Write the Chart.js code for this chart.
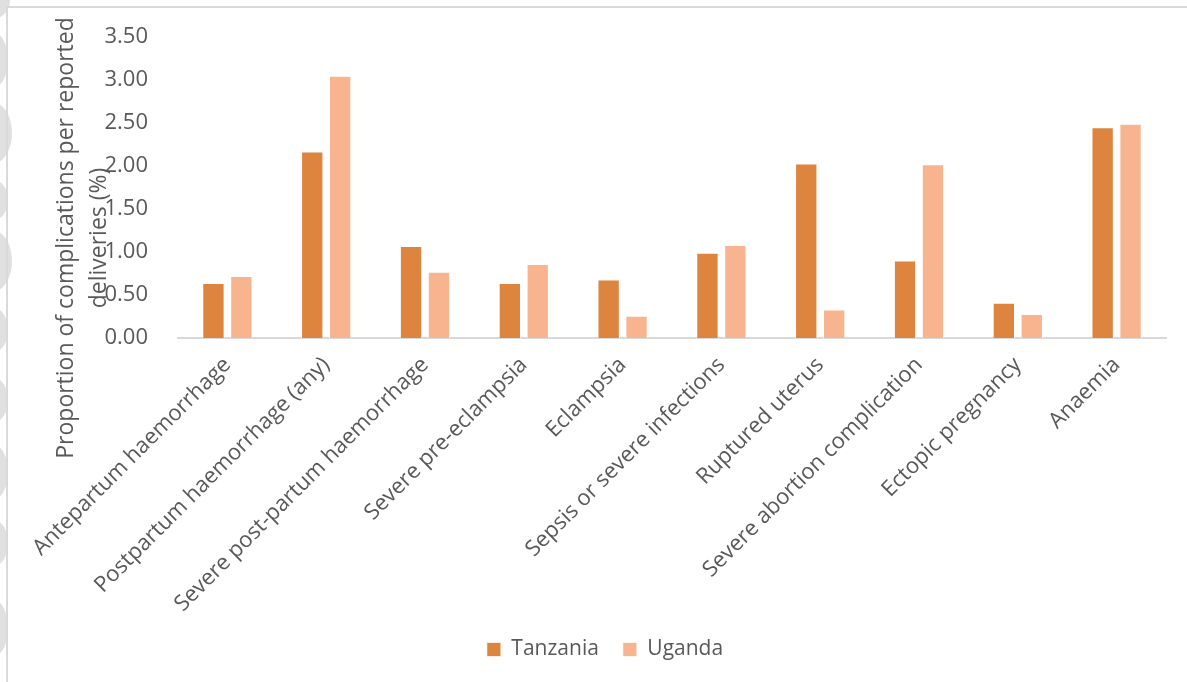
<!DOCTYPE html>
<html>
<head>
<meta charset="utf-8">
<script src="https://cdn.jsdelivr.net/npm/chart.js@4/dist/chart.umd.min.js"></script>
<style>
  html, body { margin: 0; padding: 0; background: #fff; }
  #wrap { position: relative; width: 1187px; height: 682px; overflow: hidden; }
  #frame { position: absolute; left: 6px; top: 6px; right: -2px; bottom: -2px;
           border-top: 2px solid #d9d9d9; border-left: 2px solid #d9d9d9; }
  .blob { position: absolute; background: #e0e0e0; border-radius: 50%; }
  canvas { position: absolute; left: 0; top: 0; }
</style>
</head>
<body>
<div id="wrap">
  <div class="blob" style="left:-20px; top:-18px; width:30px; height:36px;"></div>
  <div class="blob" style="left:-22px; top:32px; width:30px; height:56px;"></div>
  <div class="blob" style="left:-28px; top:102px; width:40px; height:62px;"></div>
  <div class="blob" style="left:-20px; top:180px; width:28px; height:40px;"></div>
  <div class="blob" style="left:-28px; top:230px; width:40px; height:62px;"></div>
  <div class="blob" style="left:-20px; top:308px; width:28px; height:44px;"></div>
  <div class="blob" style="left:-20px; top:378px; width:28px; height:44px;"></div>
  <div class="blob" style="left:-20px; top:445px; width:28px; height:54px;"></div>
  <div class="blob" style="left:-20px; top:520px; width:28px; height:46px;"></div>
  <div class="blob" style="left:-20px; top:600px; width:28px; height:56px;"></div>
  <div id="frame"></div>
  <canvas id="chart" width="1187" height="682"></canvas>
</div>
<script>
// Categorias e valores
const categories = [
  'Antepartum haemorrhage',
  'Postpartum haemorrhage (any)',
  'Severe post-partum haemorrhage',
  'Severe pre-eclampsia',
  'Eclampsia',
  'Sepsis or severe infections',
  'Ruptured uterus',
  'Severe abortion complication',
  'Ectopic pregnancy',
  'Anaemia'
];
const tanzania = [0.64, 2.17, 1.07, 0.64, 0.68, 0.99, 2.03, 0.90, 0.41, 2.45];
const uganda = [0.72, 3.05, 0.77, 0.86, 0.26, 1.08, 0.33, 2.02, 0.28, 2.49];
const yTicks = [0, 0.5, 1, 1.5, 2, 2.5, 3, 3.5];
const yTitle = ['Proportion of complications per reported', 'deliveries (%)'];

const FONT = "'Open Sans', sans-serif";
const TEXT_COLOR = '#595959';
const FONT_SIZE = 22;

// Título do eixo Y desenhado à mão (centralizado como no Excel)
const yTitlePlugin = {
  id: 'yTitle',
  afterDraw(chart) {
    const ctx = chart.ctx;
    ctx.save();
    ctx.translate(82, 238);
    ctx.rotate(-Math.PI / 2);
    ctx.fillStyle = TEXT_COLOR;
    ctx.font = '23px ' + FONT;
    ctx.textAlign = 'center';
    ctx.textBaseline = 'middle';
    ctx.fillText(yTitle[0], 0, -16);
    ctx.fillText(yTitle[1], 0, 17);
    ctx.restore();
  }
};

new Chart(document.getElementById('chart'), {
  type: 'bar',
  data: {
    labels: categories,
    datasets: [
      {
        label: 'Tanzania',
        data: tanzania,
        backgroundColor: '#dd843f',
        borderColor: 'rgba(255,255,255,0.7)',
        borderWidth: 1
      },
      {
        label: 'Uganda',
        data: uganda,
        backgroundColor: '#f8b48e',
        borderColor: 'rgba(255,255,255,0.7)',
        borderWidth: 1
      }
    ]
  },
  options: {
    responsive: false,
    animation: false,
    // padding esquerdo desloca a legenda para o centro do quadro
    layout: { padding: { top: 37, right: 21, left: 44, bottom: 12 } },
    datasets: {
      bar: { categoryPercentage: 0.565, barPercentage: 0.8 }
    },
    plugins: {
      legend: {
        position: 'bottom',
        labels: {
          boxWidth: 14,
          boxHeight: 14,
          padding: 24,
          color: TEXT_COLOR,
          font: { family: FONT, size: 21 }
        }
      },
      tooltip: { enabled: false }
    },
    scales: {
      x: {
        grid: { display: false },
        border: { display: true, color: '#d9d9d9', width: 2 },
        ticks: {
          color: TEXT_COLOR,
          font: { family: FONT, size: FONT_SIZE },
          minRotation: 45,
          maxRotation: 45,
          autoSkip: false,
          padding: 6
        },
        afterFit(scale) { scale.height = 277; }
      },
      y: {
        min: 0,
        max: 3.5,
        grid: { display: false },
        border: { display: false },
        afterBuildTicks(scale) { scale.ticks = yTicks.map(v => ({ value: v })); },
        ticks: {
          color: TEXT_COLOR,
          font: { family: FONT, size: FONT_SIZE },
          padding: 22,
          callback: v => Number(v).toFixed(2)
        },
        afterFit(scale) { scale.width = 134; }
      }
    }
  },
  plugins: [yTitlePlugin]
});
</script>
</body>
</html>
